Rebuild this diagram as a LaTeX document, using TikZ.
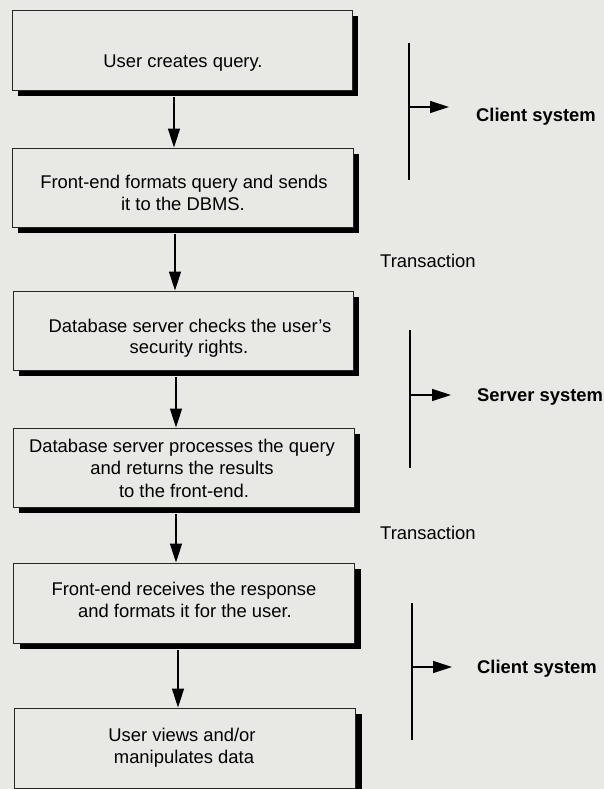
\documentclass[tikz,border=0pt]{standalone}
\usepackage{fontspec}
\setmainfont{Liberation Sans}
\usetikzlibrary{arrows.meta,shadows}
\definecolor{bg}{RGB}{232,233,229}
\begin{document}
\begin{tikzpicture}[x=1pt,y=-1pt,
  box/.style={draw=black!85,line width=0.9pt,fill=bg,inner sep=0pt,
    drop shadow={shadow xshift=6pt,shadow yshift=-6pt,fill=black,opacity=1}},
  txt/.style={anchor=base,inner sep=0pt,font=\fontsize{18.4}{22}\selectfont},
  lbl/.style={anchor=west,inner sep=0pt,font=\fontsize{18.4}{22}\selectfont\bfseries},
  tr/.style={anchor=west,inner sep=0pt,font=\fontsize{18.4}{22}\selectfont},
  arr/.style={line width=1.3pt,-{Triangle[length=19pt,width=12pt]}},
  bar/.style={line width=1.6pt},
]
\fill[bg] (0,0) rectangle (604,789);
\useasboundingbox (0,0) rectangle (604,789);

% boxes
\node[box,minimum width=340pt,minimum height=80pt] (b1) at (182,50) {};
\node[box,minimum width=341pt,minimum height=79pt] (b2) at (182.5,187.5) {};
\node[box,minimum width=340pt,minimum height=79pt] (b3) at (183,330.5) {};
\node[box,minimum width=341pt,minimum height=79pt] (b4) at (183.5,467.5) {};
\node[box,minimum width=341pt,minimum height=80pt] (b5) at (184,603) {};
\node[box,minimum width=341pt,minimum height=80pt] (b6) at (185,748) {};

% texts
\node[txt] (t1) at (183,68) {User creates query.};
\node[txt] (t2a) at (184,188) {Front-end formats query and sends};
\node[txt] (t2b) at (183,210) {it to the DBMS.};
\node[txt] (t3a) at (190,332) {Database server checks the user’s};
\node[txt] (t3b) at (189,353) {security rights.};
\node[txt] (t4a) at (182,452) {Database server processes the query};
\node[txt] (t4b) at (182,474) {and returns the results};
\node[txt] (t4c) at (184,497) {to the front-end.};
\node[txt] (t5a) at (184,595) {Front-end receives the response};
\node[txt] (t5b) at (185,617) {and formats it for the user.};
\node[txt] (t6a) at (182,741) {User views and/or};
\node[txt] (t6b) at (184,763) {manipulates data};

% vertical arrows
\draw[arr] ([xshift=-8pt,yshift=-7pt]b1.south) -- ([xshift=-8pt]b1.south |- b2.north);
\draw[arr] ([xshift=-7.5pt,yshift=-7pt]b2.south) -- ([xshift=-7.5pt]b2.south |- b3.north);
\draw[arr] ([xshift=-7pt,yshift=-7pt]b3.south) -- ([xshift=-7pt]b3.south |- b4.north);
\draw[arr] ([xshift=-7.5pt,yshift=-7pt]b4.south) -- ([xshift=-7.5pt]b4.south |- b5.north);
\draw[arr] ([xshift=-6pt,yshift=-7pt]b5.south) -- ([xshift=-6pt]b5.south |- b6.north);

% right side brackets
\coordinate (c1t) at (409,43);  \coordinate (c1b) at (409,180);
\coordinate (c1a) at (409,107); \coordinate (c1h) at (449,107);
\draw[bar] (c1t) -- (c1b);
\draw[arr] (c1a) -- (c1h);
\node[lbl] (l1) at (476,117) {Client system};

\node[tr] (tr1) at (380,261) {Transaction};

\coordinate (c2t) at (410,330); \coordinate (c2b) at (410,468);
\coordinate (c2a) at (410,395); \coordinate (c2h) at (451,395);
\draw[bar] (c2t) -- (c2b);
\draw[arr] (c2a) -- (c2h);
\node[lbl] (l2) at (477,397) {Server system};

\node[tr] (tr2) at (380,533) {Transaction};

\coordinate (c3t) at (412,603); \coordinate (c3b) at (412,740);
\coordinate (c3a) at (412,667); \coordinate (c3h) at (452,667);
\draw[bar] (c3t) -- (c3b);
\draw[arr] (c3a) -- (c3h);
\node[lbl] (l3) at (477,669) {Client system};
\end{tikzpicture}
\end{document}
